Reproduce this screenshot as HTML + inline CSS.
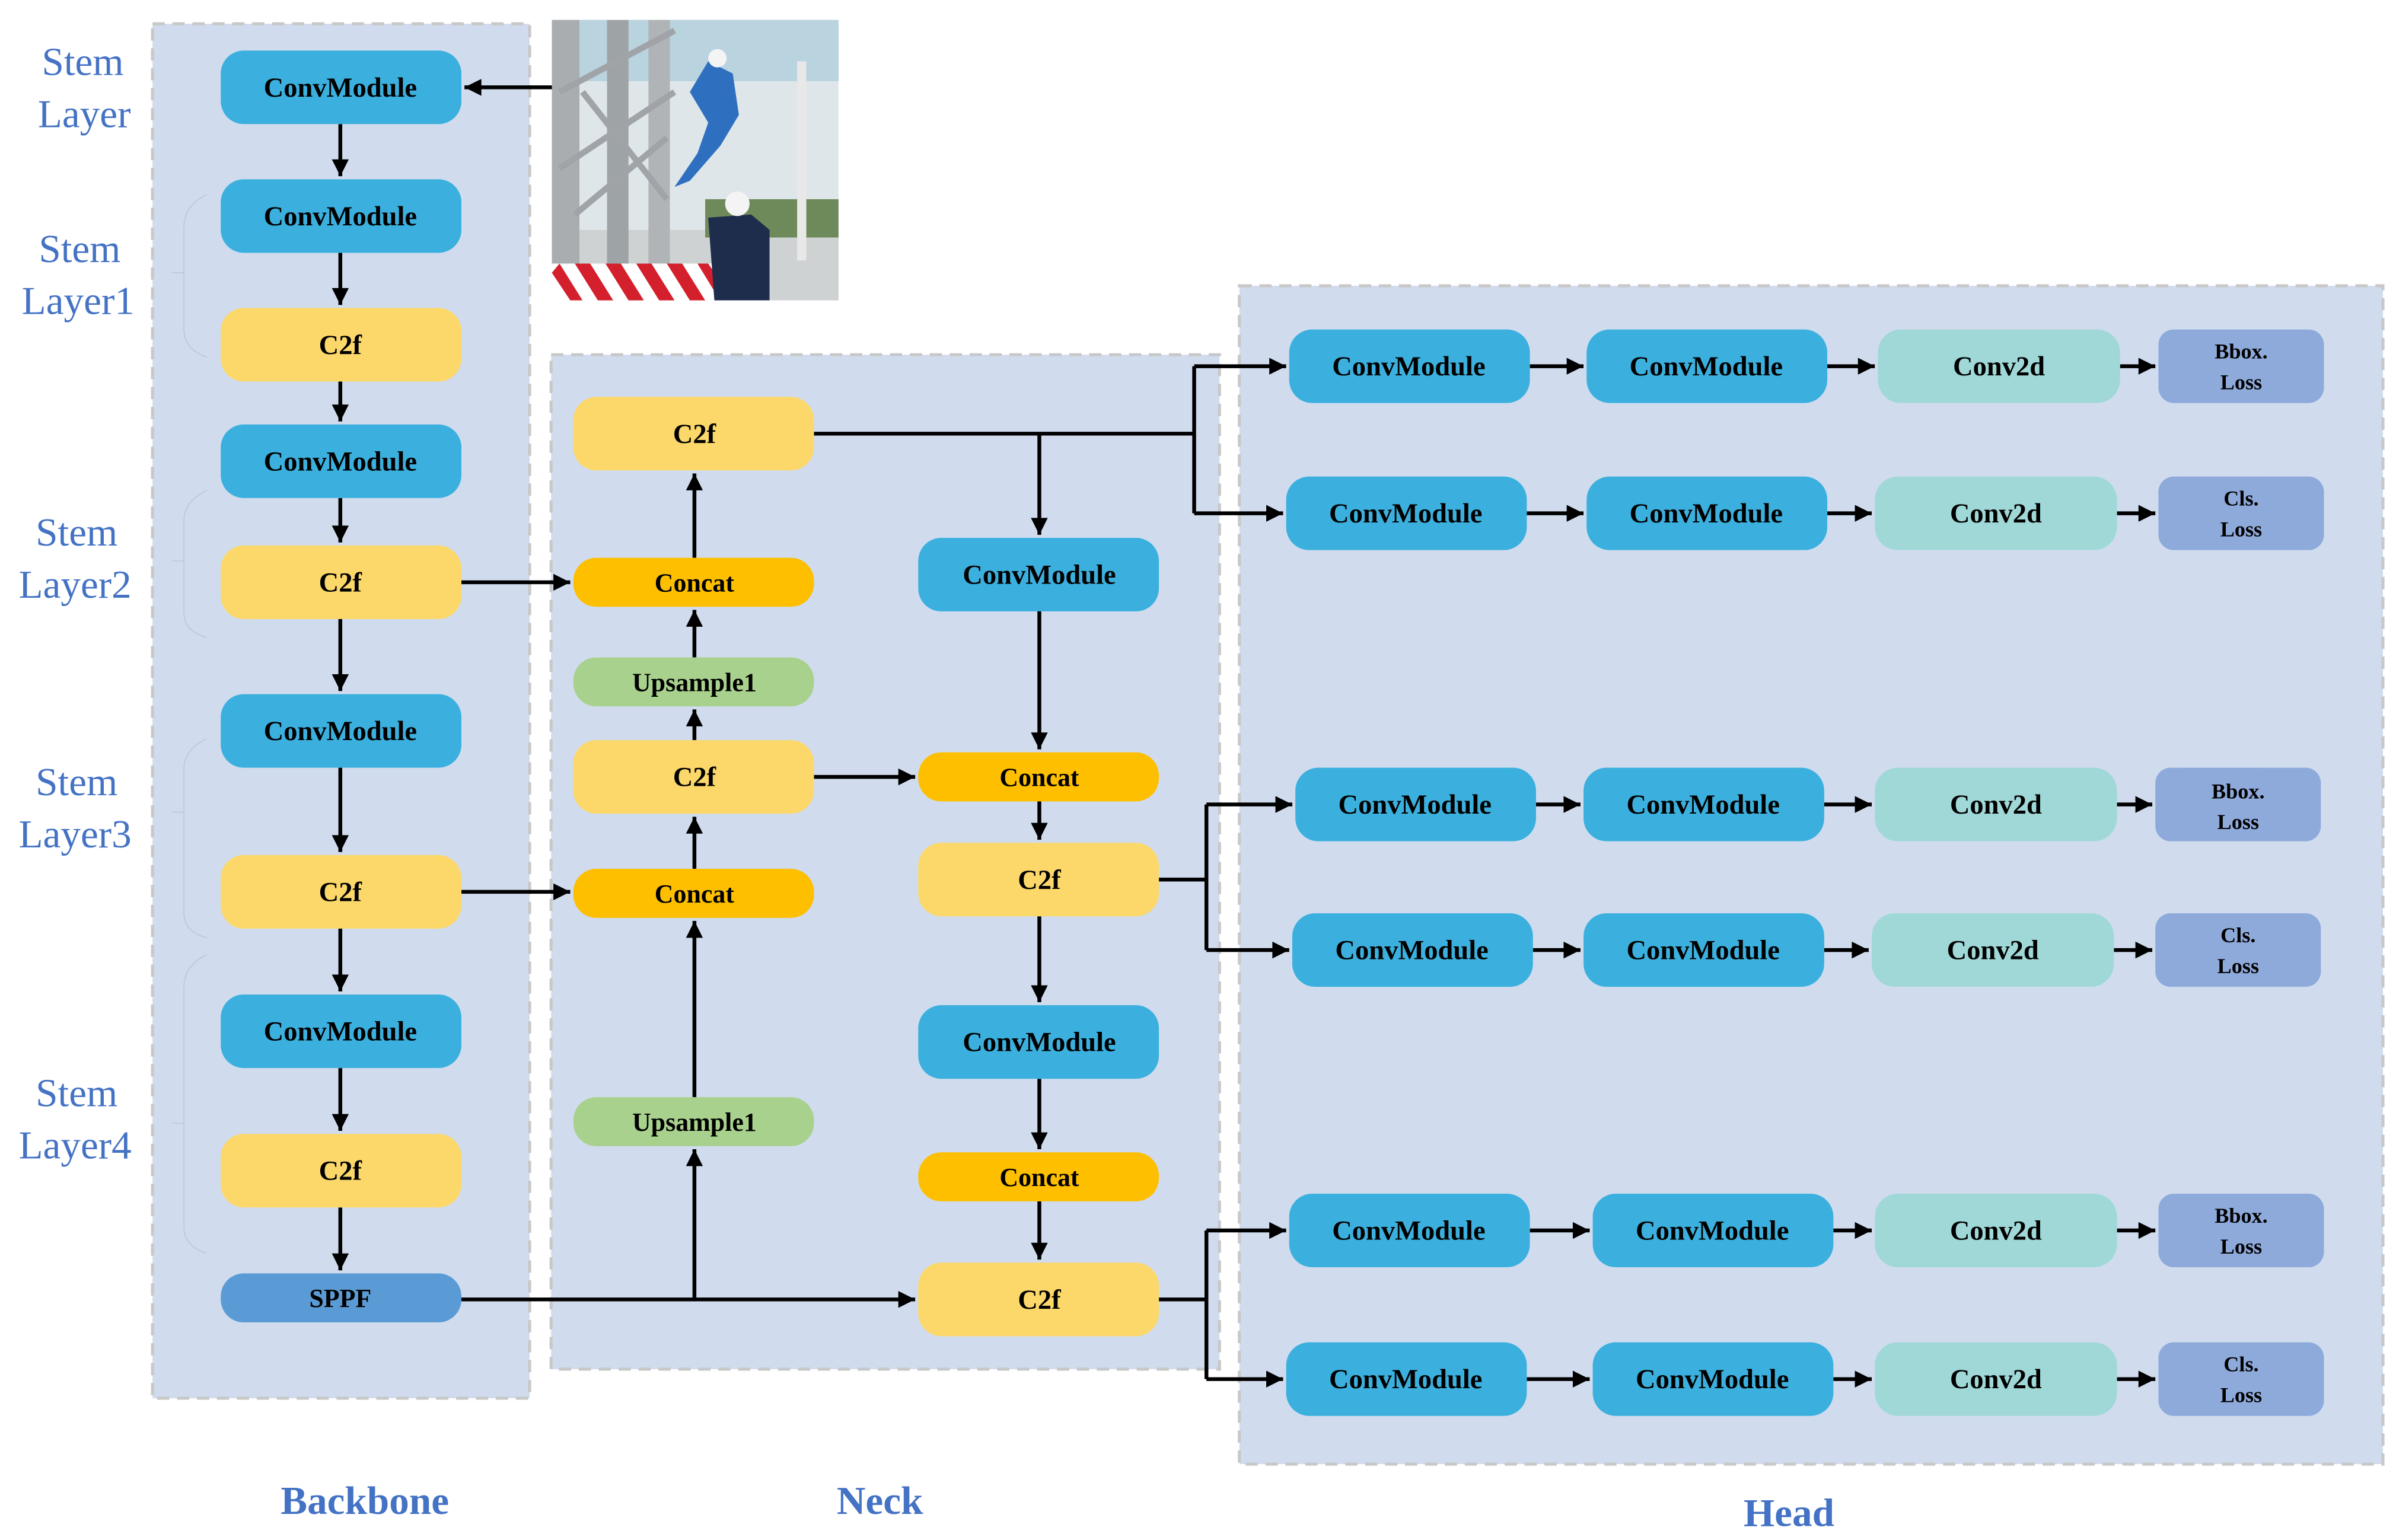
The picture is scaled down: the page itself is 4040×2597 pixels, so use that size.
<!DOCTYPE html>
<html><head><meta charset="utf-8"><style>html,body{margin:0;padding:0;background:#fff}svg{display:block}</style></head>
<body>
<svg xmlns="http://www.w3.org/2000/svg" width="4040" height="2597" viewBox="0 0 1563 1005" preserveAspectRatio="none" font-family="'Liberation Serif',serif">
<defs>
<marker id="a" viewBox="0 0 10 10" refX="10" refY="5" markerWidth="4.6" markerHeight="4.4" orient="auto" markerUnits="strokeWidth"><path d="M0,0 L10,5 L0,10 z" fill="#000"/></marker>
</defs>
<rect width="1563" height="1005" fill="#fff"/>
<rect x="99.5" y="15.5" width="246" height="897" fill="#d0dcee" stroke="#c8c8c8" stroke-width="2" stroke-dasharray="8,5"/>
<rect x="359.5" y="231.5" width="436" height="662" fill="#d0dcee" stroke="#c8c8c8" stroke-width="2" stroke-dasharray="8,5"/>
<rect x="808.5" y="186.5" width="746" height="769" fill="#d0dcee" stroke="#c8c8c8" stroke-width="2" stroke-dasharray="8,5"/>
<g fill="none" stroke="#c0c8d8" stroke-width="0.7">
<path d="M135,127 Q120,134 120,148 V215 Q120,228 135,233"/><path d="M112,178 H120"/>
<path d="M135,320 Q120,327 120,340 V400 Q120,412 135,416"/><path d="M112,366 H120"/>
<path d="M135,482 Q120,489 120,502 V596 Q120,608 135,612"/><path d="M112,530 H120"/>
<path d="M135,623 Q120,630 120,644 V801 Q120,813 135,818"/><path d="M112,733 H120"/>
</g>
<g>
<rect x="360" y="13" width="187" height="183" fill="#dfe6ea"/>
<rect x="360" y="13" width="187" height="40" fill="#b9d3df"/>
<rect x="360" y="150" width="187" height="46" fill="#cfd2d2"/>
<rect x="460" y="130" width="87" height="25" fill="#6f8a5a"/>
<rect x="360" y="13" width="18" height="160" fill="#a9adb0"/>
<rect x="396" y="13" width="14" height="160" fill="#9ea3a6"/>
<rect x="423" y="13" width="14" height="165" fill="#b0b4b6"/>
<path d="M365,60 L440,20 M365,110 L440,60 M375,140 L435,90 M380,60 L435,130" stroke="#a0a4a8" stroke-width="4"/>
<rect x="360" y="172" width="107" height="24" fill="#fff"/>
<g fill="#d3202c"><path d="M360,178 L372,196 L380,196 L365,172 Z M375,172 L390,196 L400,196 L385,172 Z M395,172 L410,196 L420,196 L405,172 Z M415,172 L430,196 L440,196 L425,172 Z M435,172 L450,196 L460,196 L445,172 Z M455,172 L466,190 L466,178 L462,172 Z"/></g>
<path d="M462,40 L478,48 L482,75 L470,95 L450,118 L440,122 L455,100 L462,80 L450,60 Z" fill="#2f6fc0"/>
<circle cx="468" cy="38" r="6" fill="#f4f4f4"/>
<path d="M462,142 L490,140 L502,150 L502,196 L466,196 Z" fill="#1f2d4c"/>
<circle cx="481" cy="133" r="8" fill="#f4f4f4"/>
<rect x="520" y="40" width="6" height="130" fill="#e8e8e8"/>
</g>
<g stroke="#000" stroke-width="2.5" fill="none">
<path d="M360,57 H303" marker-end="url(#a)"/>
<path d="M222,81 V115" marker-end="url(#a)"/>
<path d="M222,165 V199" marker-end="url(#a)"/>
<path d="M222,249 V275" marker-end="url(#a)"/>
<path d="M222,325 V354" marker-end="url(#a)"/>
<path d="M222,404 V451" marker-end="url(#a)"/>
<path d="M222,501 V556" marker-end="url(#a)"/>
<path d="M222,606 V647" marker-end="url(#a)"/>
<path d="M222,697 V738" marker-end="url(#a)"/>
<path d="M222,788 V829" marker-end="url(#a)"/>
<path d="M301,380 H372" marker-end="url(#a)"/>
<path d="M301,582 H372" marker-end="url(#a)"/>
<path d="M301,848 H597" marker-end="url(#a)"/>
<path d="M453,848 V750" marker-end="url(#a)"/>
<path d="M453,716 V601" marker-end="url(#a)"/>
<path d="M453,567 V533" marker-end="url(#a)"/>
<path d="M453,483 V463" marker-end="url(#a)"/>
<path d="M453,429 V398" marker-end="url(#a)"/>
<path d="M453,364 V309" marker-end="url(#a)"/>
<path d="M531,507 H597" marker-end="url(#a)"/>
<path d="M531,283 H779"/>
<path d="M678,283 V349" marker-end="url(#a)"/>
<path d="M779,239 V335"/>
<path d="M779,239 H839" marker-end="url(#a)"/>
<path d="M779,335 H837" marker-end="url(#a)"/>
<path d="M678,399 V489" marker-end="url(#a)"/>
<path d="M678,523 V548" marker-end="url(#a)"/>
<path d="M678,598 V654" marker-end="url(#a)"/>
<path d="M678,704 V750" marker-end="url(#a)"/>
<path d="M678,784 V822" marker-end="url(#a)"/>
<path d="M756,574 H787 M787,525 V620"/>
<path d="M787,525 H843" marker-end="url(#a)"/>
<path d="M787,620 H841" marker-end="url(#a)"/>
<path d="M756,848 H787 M787,803 V900"/>
<path d="M787,803 H839" marker-end="url(#a)"/>
<path d="M787,900 H837" marker-end="url(#a)"/>
<path d="M998,239 H1033" marker-end="url(#a)"/><path d="M1192,239 H1223" marker-end="url(#a)"/><path d="M1383,239 H1406" marker-end="url(#a)"/>
<path d="M996,335 H1033" marker-end="url(#a)"/><path d="M1192,335 H1221" marker-end="url(#a)"/><path d="M1381,335 H1406" marker-end="url(#a)"/>
<path d="M1002,525 H1031" marker-end="url(#a)"/><path d="M1190,525 H1221" marker-end="url(#a)"/><path d="M1381,525 H1404" marker-end="url(#a)"/>
<path d="M1000,620 H1031" marker-end="url(#a)"/><path d="M1190,620 H1219" marker-end="url(#a)"/><path d="M1379,620 H1404" marker-end="url(#a)"/>
<path d="M998,803 H1037" marker-end="url(#a)"/><path d="M1196,803 H1221" marker-end="url(#a)"/><path d="M1381,803 H1406" marker-end="url(#a)"/>
<path d="M996,900 H1037" marker-end="url(#a)"/><path d="M1196,900 H1221" marker-end="url(#a)"/><path d="M1381,900 H1406" marker-end="url(#a)"/>
</g>
<g font-weight="bold" text-anchor="middle" fill="#000">
<rect x="144" y="33" width="157" height="48" rx="15" fill="#3bb0de"/><text x="222" y="63" font-size="18">ConvModule</text>
<rect x="144" y="117" width="157" height="48" rx="15" fill="#3bb0de"/><text x="222" y="147" font-size="18">ConvModule</text>
<rect x="144" y="201" width="157" height="48" rx="15" fill="#fcd86a"/><text x="222" y="231" font-size="18">C2f</text>
<rect x="144" y="277" width="157" height="48" rx="15" fill="#3bb0de"/><text x="222" y="307" font-size="18">ConvModule</text>
<rect x="144" y="356" width="157" height="48" rx="15" fill="#fcd86a"/><text x="222" y="386" font-size="18">C2f</text>
<rect x="144" y="453" width="157" height="48" rx="15" fill="#3bb0de"/><text x="222" y="483" font-size="18">ConvModule</text>
<rect x="144" y="558" width="157" height="48" rx="15" fill="#fcd86a"/><text x="222" y="588" font-size="18">C2f</text>
<rect x="144" y="649" width="157" height="48" rx="15" fill="#3bb0de"/><text x="222" y="679" font-size="18">ConvModule</text>
<rect x="144" y="740" width="157" height="48" rx="15" fill="#fcd86a"/><text x="222" y="770" font-size="18">C2f</text>
<rect x="144" y="831" width="157" height="32" rx="15" fill="#5b9bd5"/><text x="222" y="853" font-size="17">SPPF</text>
<rect x="374" y="259" width="157" height="48" rx="15" fill="#fcd86a"/><text x="453" y="289" font-size="18">C2f</text>
<rect x="374" y="364" width="157" height="32" rx="15" fill="#fdbf00"/><text x="453" y="386" font-size="17">Concat</text>
<rect x="374" y="429" width="157" height="32" rx="15" fill="#a9d18e"/><text x="453" y="451" font-size="17">Upsample1</text>
<rect x="374" y="483" width="157" height="48" rx="15" fill="#fcd86a"/><text x="453" y="513" font-size="18">C2f</text>
<rect x="374" y="567" width="157" height="32" rx="15" fill="#fdbf00"/><text x="453" y="589" font-size="17">Concat</text>
<rect x="374" y="716" width="157" height="32" rx="15" fill="#a9d18e"/><text x="453" y="738" font-size="17">Upsample1</text>
<rect x="599" y="351" width="157" height="48" rx="15" fill="#3bb0de"/><text x="678" y="381" font-size="18">ConvModule</text>
<rect x="599" y="491" width="157" height="32" rx="15" fill="#fdbf00"/><text x="678" y="513" font-size="17">Concat</text>
<rect x="599" y="550" width="157" height="48" rx="15" fill="#fcd86a"/><text x="678" y="580" font-size="18">C2f</text>
<rect x="599" y="656" width="157" height="48" rx="15" fill="#3bb0de"/><text x="678" y="686" font-size="18">ConvModule</text>
<rect x="599" y="752" width="157" height="32" rx="15" fill="#fdbf00"/><text x="678" y="774" font-size="17">Concat</text>
<rect x="599" y="824" width="157" height="48" rx="15" fill="#fcd86a"/><text x="678" y="854" font-size="18">C2f</text>
<g font-size="18">
<rect x="841" y="215" width="157" height="48" rx="15" fill="#3bb0de"/><text x="919" y="245">ConvModule</text>
<rect x="1035" y="215" width="157" height="48" rx="15" fill="#3bb0de"/><text x="1113" y="245">ConvModule</text>
<rect x="1225" y="215" width="158" height="48" rx="15" fill="#a0d8d8"/><text x="1304" y="245">Conv2d</text>
<rect x="839" y="311" width="157" height="48" rx="15" fill="#3bb0de"/><text x="917" y="341">ConvModule</text>
<rect x="1035" y="311" width="157" height="48" rx="15" fill="#3bb0de"/><text x="1113" y="341">ConvModule</text>
<rect x="1223" y="311" width="158" height="48" rx="15" fill="#a0d8d8"/><text x="1302" y="341">Conv2d</text>
<rect x="845" y="501" width="157" height="48" rx="15" fill="#3bb0de"/><text x="923" y="531">ConvModule</text>
<rect x="1033" y="501" width="157" height="48" rx="15" fill="#3bb0de"/><text x="1111" y="531">ConvModule</text>
<rect x="1223" y="501" width="158" height="48" rx="15" fill="#a0d8d8"/><text x="1302" y="531">Conv2d</text>
<rect x="843" y="596" width="157" height="48" rx="15" fill="#3bb0de"/><text x="921" y="626">ConvModule</text>
<rect x="1033" y="596" width="157" height="48" rx="15" fill="#3bb0de"/><text x="1111" y="626">ConvModule</text>
<rect x="1221" y="596" width="158" height="48" rx="15" fill="#a0d8d8"/><text x="1300" y="626">Conv2d</text>
<rect x="841" y="779" width="157" height="48" rx="15" fill="#3bb0de"/><text x="919" y="809">ConvModule</text>
<rect x="1039" y="779" width="157" height="48" rx="15" fill="#3bb0de"/><text x="1117" y="809">ConvModule</text>
<rect x="1223" y="779" width="158" height="48" rx="15" fill="#a0d8d8"/><text x="1302" y="809">Conv2d</text>
<rect x="839" y="876" width="157" height="48" rx="15" fill="#3bb0de"/><text x="917" y="906">ConvModule</text>
<rect x="1039" y="876" width="157" height="48" rx="15" fill="#3bb0de"/><text x="1117" y="906">ConvModule</text>
<rect x="1223" y="876" width="158" height="48" rx="15" fill="#a0d8d8"/><text x="1302" y="906">Conv2d</text>
</g>
<g font-size="14">
<rect x="1408" y="215" width="108" height="48" rx="10" fill="#8eaadb"/><text x="1462" y="234">Bbox.</text><text x="1462" y="254">Loss</text>
<rect x="1408" y="311" width="108" height="48" rx="10" fill="#8eaadb"/><text x="1462" y="330">Cls.</text><text x="1462" y="350">Loss</text>
<rect x="1406" y="501" width="108" height="48" rx="10" fill="#8eaadb"/><text x="1460" y="521">Bbox.</text><text x="1460" y="541">Loss</text>
<rect x="1406" y="596" width="108" height="48" rx="10" fill="#8eaadb"/><text x="1460" y="615">Cls.</text><text x="1460" y="635">Loss</text>
<rect x="1408" y="779" width="108" height="48" rx="10" fill="#8eaadb"/><text x="1462" y="798">Bbox.</text><text x="1462" y="818">Loss</text>
<rect x="1408" y="876" width="108" height="48" rx="10" fill="#8eaadb"/><text x="1462" y="895">Cls.</text><text x="1462" y="915">Loss</text>
</g>
</g>
<g fill="#4472c4" font-size="26" text-anchor="middle">
<text x="54" y="49">Stem</text><text x="55" y="83">Layer</text>
<text x="52" y="171">Stem</text><text x="51" y="205">Layer1</text>
<text x="50" y="356">Stem</text><text x="49" y="390">Layer2</text>
<text x="50" y="519">Stem</text><text x="49" y="553">Layer3</text>
<text x="50" y="722">Stem</text><text x="49" y="756">Layer4</text>
</g>
<g fill="#4472c4" font-size="26" font-weight="bold" text-anchor="middle">
<text x="238" y="988">Backbone</text>
<text x="574" y="988">Neck</text>
<text x="1167" y="996">Head</text>
</g>
</svg>
</body></html>
